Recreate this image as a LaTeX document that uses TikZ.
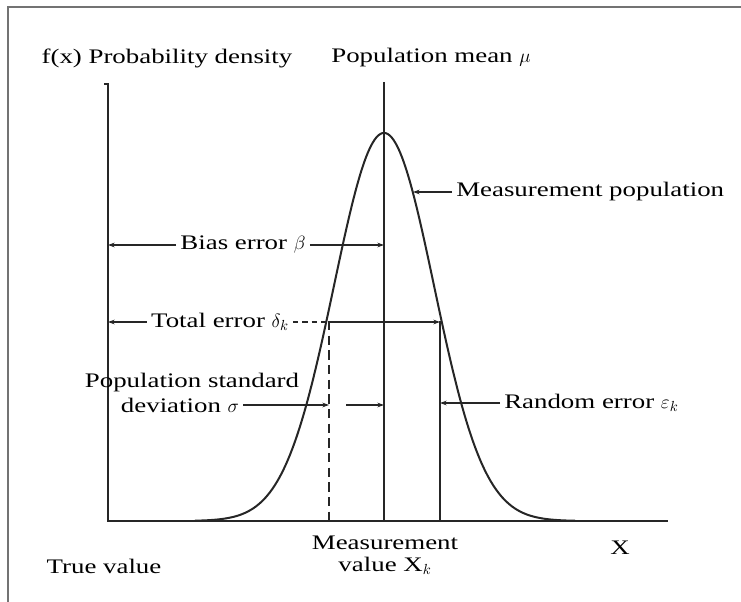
\documentclass[tikz,border=0pt]{standalone}
\usepackage{fontspec}
\setmainfont{Liberation Serif}[FakeStretch=1.3]
\usetikzlibrary{arrows.meta}
\begin{document}
\begin{tikzpicture}[x=0.75pt,y=-0.75pt,
  lbl/.style={inner sep=3pt, font=\fontsize{15.5}{16.5}\selectfont},
  ln/.style={line width=1.2pt, black!85},
  arr/.style={ln, -{Stealth[length=5pt,width=3.5pt]}},
  dsh/.style={ln, dash pattern=on 7pt off 4pt},
]
\useasboundingbox (0,0) rectangle (741,602);
\draw[black!55, line width=1pt] (8,602) -- (8,7) -- (741,7);

\coordinate (ytop) at (108,84);
\coordinate (orig) at (108,521);
\coordinate (xend) at (668,521);
\coordinate (mutop) at (384,82);
\coordinate (mubot) at (384,521);
\coordinate (dtop) at (329,321);
\coordinate (dbot) at (329,521);
\coordinate (xktop) at (440,321);
\coordinate (xkbot) at (440,521);
\coordinate (mpc) at (413,192);
\coordinate (sgs) at (346,405);

% axes
\draw[ln] ([xshift=-3pt]ytop) -- (ytop) -- (orig) -- (xend);
\draw[ln] (mutop) -- (mubot);
\draw[dsh] (dtop) -- (dbot);
\draw[ln] (xktop) -- (xkbot);

% curve
\draw[line width=1.5pt, black!85] plot[domain=195:575,samples=200,smooth] (\x,{521-388*exp(-0.5*((\x-384)/50)^2)});

% labels
\node[lbl] (fx) at (167,58) {f(x) Probability density};
\node[lbl] (mu) at (431,58) {Population mean $\mu$};
\node[lbl, anchor=west] (mp) at (452,192) {Measurement population};
\node[lbl] (bias) at (243,245) {Bias error $\beta$};
\node[lbl] (total) at (220,322) {Total error $\delta_k$};
\node[lbl] (psd1) at (192,383) {Population standard};
\node[lbl] (psd2) at (180,405) {deviation $\sigma$};
\node[lbl, anchor=west] (rand) at (500,403) {Random error $\varepsilon_k$};
\node[lbl, align=center] (meas) at (385,555) {Measurement\\value X$_k$};
\node[lbl] (xl) at (620,548) {X};
\node[lbl] (tv) at (104,566) {True value};

% leaders
\draw[arr] (bias.west) -- (bias.west -| orig);
\draw[arr] (bias.east) -- (bias.east -| mubot);
\draw[arr] (total.west) -- (total.west -| orig);
\draw[ln, dash pattern=on 4pt off 3pt] (total.east) -- (total.east -| dtop);
\draw[arr] (total.east -| dtop) -- (total.east -| xktop);
\draw[arr] (psd2.east) -- (psd2.east -| dtop);
\draw[arr] (sgs) -- (sgs -| mubot);
\draw[arr] (rand.west) -- (rand.west -| xkbot);
\draw[arr] (mp.west) -- (mpc);
\end{tikzpicture}
\end{document}
